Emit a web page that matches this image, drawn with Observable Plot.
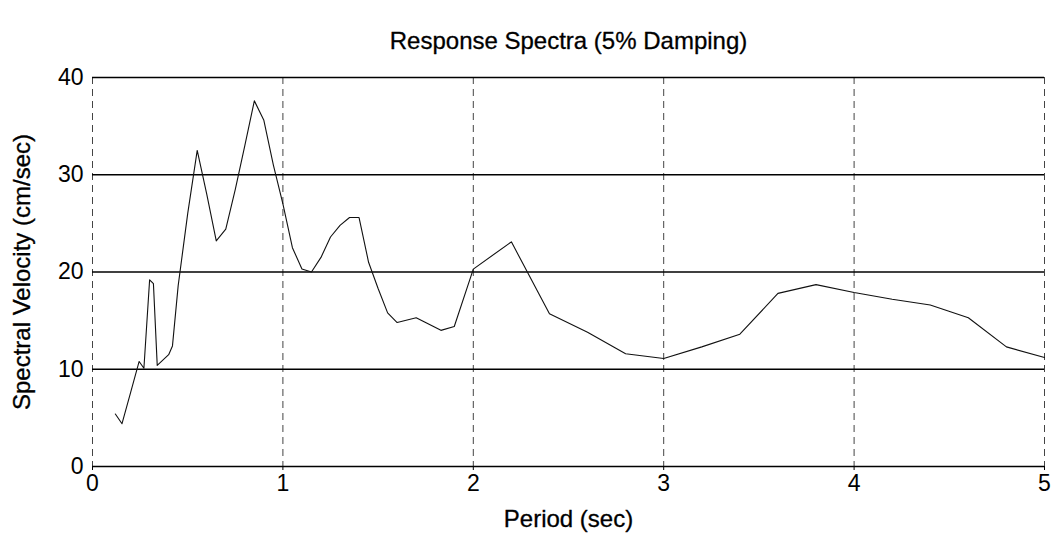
<!DOCTYPE html>
<html>
<head>
<meta charset="utf-8">
<script src="https://cdn.jsdelivr.net/npm/d3@7"></script>
<script src="https://cdn.jsdelivr.net/npm/@observablehq/plot@0.6"></script>
<style>
  html, body { margin: 0; padding: 0; background: #fff; }
  #chart svg { display: block; }
</style>
</head>
<body>
<div id="chart"></div>
<script>
const title = "Response Spectra (5% Damping)";
const xLabel = "Period (sec)";
const yLabel = "Spectral Velocity (cm/sec)";
const xTicks = [0, 1, 2, 3, 4, 5];
const yTicks = [0, 10, 20, 30, 40];

const periods = [0.12, 0.155, 0.2, 0.245, 0.27, 0.3, 0.32, 0.34, 0.4, 0.42, 0.45, 0.5, 0.55, 0.6, 0.65, 0.7, 0.75, 0.8, 0.85, 0.9, 0.95, 1.0, 1.05, 1.1, 1.15, 1.2, 1.25, 1.3, 1.35, 1.4, 1.45, 1.5, 1.55, 1.6, 1.7, 1.83, 1.9, 2.0, 2.2, 2.4, 2.6, 2.8, 3.0, 3.2, 3.4, 3.6, 3.8, 4.0, 4.2, 4.4, 4.6, 4.8, 5.0];
const velocities = [5.4, 4.4, 7.6, 10.8, 10.1, 19.2, 18.8, 10.4, 11.5, 12.4, 18.6, 26.0, 32.5, 28.0, 23.2, 24.4, 28.5, 33.0, 37.6, 35.6, 31.0, 27.0, 22.5, 20.3, 20.0, 21.5, 23.6, 24.8, 25.6, 25.6, 21.0, 18.3, 15.8, 14.8, 15.3, 14.0, 14.4, 20.3, 23.1, 15.7, 13.8, 11.6, 11.1, 12.3, 13.6, 17.8, 18.7, 17.9, 17.2, 16.6, 15.3, 12.3, 11.2];

const data = periods.map((p, i) => ({period: p, velocity: velocities[i]}));

const chart = Plot.plot({
  width: 1057,
  height: 546,
  marginLeft: 92,
  marginRight: 13,
  marginTop: 77,
  marginBottom: 80,
  style: {fontFamily: "'Liberation Sans', Arial, sans-serif", background: "#fff", color: "#000"},
  x: {domain: [0, 5], ticks: xTicks, label: null},
  y: {domain: [0, 40], ticks: yTicks, label: null},
  marks: [
    Plot.ruleX(xTicks, {stroke: "#444", strokeWidth: 1, strokeDasharray: "7,5"}),
    Plot.ruleY(yTicks, {stroke: "#000", strokeWidth: 1.6}),
    Plot.axisX({ticks: xTicks, tickSize: 4, tickPadding: 4, fontSize: 23, tickFormat: d => String(d), stroke: "#000"}),
    Plot.axisY({ticks: yTicks, tickSize: 0, tickPadding: 9, fontSize: 23, tickFormat: d => String(d)}),
    Plot.line(data, {x: "period", y: "velocity", stroke: "#111", strokeWidth: 1.1}),
    Plot.text([title], {frameAnchor: "top", textAnchor: "middle", dy: -46, fontSize: 24, fill: "#000", stroke: "#000", strokeWidth: 0.3}),
    Plot.text([xLabel], {frameAnchor: "bottom", textAnchor: "middle", dy: 60, fontSize: 24, fill: "#000", stroke: "#000", strokeWidth: 0.3}),
    Plot.text([yLabel], {frameAnchor: "left", textAnchor: "middle", dx: -70, rotate: -90, fontSize: 24, fill: "#000", stroke: "#000", strokeWidth: 0.3})
  ]
});
document.getElementById("chart").appendChild(chart);
</script>
</body>
</html>
